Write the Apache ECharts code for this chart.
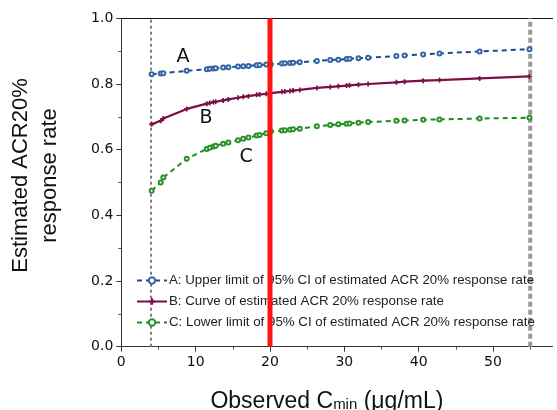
<!DOCTYPE html>
<html><head><meta charset="utf-8">
<script src="https://cdn.jsdelivr.net/npm/echarts@6/dist/echarts.min.js"></script>
<style>html,body{margin:0;padding:0;background:#fff}#c{width:557px;height:410px}</style>
</head><body><div id="c"></div>
<script>
// Observed Cmin values (µg/mL) where estimates are plotted
const cmin = [4.08,5.3,5.65,8.8,11.5,11.9,12.4,12.7,13.7,14.4,15.7,16.4,17.1,18.2,18.6,19.5,20.1,21.6,22.0,22.7,23.1,24.0,26.3,28.1,29.2,30.3,30.7,31.9,33.2,37.0,38.1,40.6,42.8,48.2,54.9];
const upperA = [0.830,0.832,0.833,0.840,0.845,0.846,0.847,0.848,0.850,0.851,0.853,0.854,0.855,0.857,0.858,0.859,0.860,0.862,0.863,0.864,0.865,0.866,0.870,0.873,0.874,0.876,0.877,0.878,0.880,0.885,0.887,0.890,0.893,0.899,0.906];
const curveB = [0.677,0.688,0.695,0.724,0.740,0.742,0.745,0.746,0.750,0.753,0.758,0.761,0.763,0.767,0.768,0.770,0.772,0.776,0.777,0.779,0.780,0.782,0.788,0.791,0.793,0.795,0.796,0.798,0.800,0.805,0.807,0.810,0.812,0.817,0.823];
const lowerC = [0.475,0.500,0.515,0.572,0.602,0.606,0.610,0.612,0.618,0.622,0.629,0.633,0.637,0.643,0.645,0.650,0.655,0.658,0.659,0.661,0.662,0.664,0.671,0.675,0.677,0.679,0.680,0.682,0.684,0.688,0.689,0.691,0.692,0.695,0.697];
const seriesNames = [
  'A: Upper limit of 95% CI of estimated ACR 20% response rate',
  'B: Curve of estimated ACR 20% response rate',
  'C: Lower limit of 95% CI of estimated ACR 20% response rate'
];
const curveLetters = ['A','B','C'];
const refLowX = [4];
const refTargetX = [20];
const refHighX = [55];
const yRange = [0, 1];
const xTicks = [0,10,20,30,40,50];
const xMinorTicks = [5,15,25,35,45,55];

const zip = (xs, ys) => xs.map((x,i)=>[x, ys[i]]);
const vline = (x) => yRange.map(y=>[x,y]);

const chart = echarts.init(document.getElementById('c'), null, {renderer:'canvas'});
const plus = 'path://M2,0h2v2h2v2h-2v2h-2v-2h-2v-2h2z';
const letterLabel = (t, coord) => ({
  symbol:'circle', symbolSize:2, silent:true,
  itemStyle:{color:'rgba(0,0,0,0)'},
  label:{show:true, position:'inside', color:'#111', fontFamily:'DejaVu Sans', fontSize:19, formatter:t},
  data:[{coord:coord, name:t}]
});
chart.setOption({
  animation:false,
  textStyle:{fontFamily:'Liberation Sans'},
  grid:{left:121.3, top:18.3, right:4.5, bottom:63.3, containLabel:false, outerBoundsMode:'none'},
  legend:{
    data:seriesNames, orient:'vertical', left:131, top:269,
    itemWidth:30, itemHeight:8, itemGap:8,
    textStyle:{fontFamily:'Liberation Sans', fontSize:13.3, color:'#222', padding:[0,0,0,-3]}
  },
  xAxis:[
    {type:'value', min:0, max:58, interval:10, position:'bottom',
     axisLine:{show:true, onZero:false, lineStyle:{color:'#333', width:1}},
     axisTick:{show:true, length:5, lineStyle:{color:'#333'}, customValues:xTicks},
     axisLabel:{customValues:xTicks, color:'#111', fontFamily:'DejaVu Sans', fontSize:14, margin:9},
     splitLine:{show:false},
     name:'{a|Observed C}{s|min}{a| (μg/mL)}', nameLocation:'middle', nameGap:40,
     nameTextStyle:{rich:{a:{fontFamily:'Liberation Sans', fontSize:23, color:'#111', lineHeight:26, verticalAlign:'bottom'}, s:{fontFamily:'Liberation Sans', fontSize:15, color:'#111', lineHeight:20, verticalAlign:'bottom'}}, padding:[0,20,0,0]}
    },
    {type:'value', min:0, max:58, interval:5, position:'bottom', show:true,
     axisLine:{show:false}, axisLabel:{show:false}, splitLine:{show:false},
     axisTick:{show:true, length:3, lineStyle:{color:'#555'}, customValues:xMinorTicks}},
    {type:'value', min:0, max:58, position:'top', show:true,
     axisLine:{show:true, onZero:false, lineStyle:{color:'#111', width:1.2}},
     axisTick:{show:false}, axisLabel:{show:false}, splitLine:{show:false}}
  ],
  yAxis:{type:'value', min:0, max:1, interval:0.2,
    axisLine:{show:true, onZero:false, lineStyle:{color:'#333'}},
    axisTick:{show:true, length:5, lineStyle:{color:'#333'}},
    minorTick:{show:true, splitNumber:2, length:3, lineStyle:{color:'#555'}},
    splitLine:{show:false},
    axisLabel:{formatter:v=>v.toFixed(1), color:'#111', fontFamily:'DejaVu Sans', fontSize:14, margin:8},
    name:'Estimated ACR20%\nresponse rate', nameLocation:'middle', nameGap:57, nameRotate:90,
    nameTextStyle:{fontFamily:'Liberation Sans', fontSize:22, color:'#111', lineHeight:29, padding:[0,0,0,14]}
  },
  series:[
    {name:'refLow', type:'line', data:vline(refLowX[0]), symbol:'none', silent:true, z:1,
     lineStyle:{color:'#7f7f7f', width:2, type:[3,3]}},
    {name:'refHigh', type:'line', data:vline(refHighX[0]), symbol:'none', silent:true, z:1,
     lineStyle:{color:'#999999', width:4, type:[5,3]}},
    {name:seriesNames[0], type:'line', data:zip(cmin, upperA), symbol:'emptyCircle', symbolSize:4,
     itemStyle:{color:'#3565a6', borderWidth:0.8}, lineStyle:{color:'#1b4c8c', width:2, type:[5,4]}, z:3,
     markPoint:letterLabel(curveLetters[0],[8.3,0.882])},
    {name:seriesNames[1], type:'line', data:zip(cmin, curveB), symbol:plus, symbolSize:5,
     itemStyle:{color:'#7a1046'}, lineStyle:{color:'#7a1046', width:2.2}, z:3,
     markPoint:letterLabel(curveLetters[1],[11.4,0.695])},
    {name:seriesNames[2], type:'line', data:zip(cmin, lowerC), symbol:'emptyCircle', symbolSize:4,
     itemStyle:{color:'#2a922a', borderWidth:0.8}, lineStyle:{color:'#1d8a1d', width:2, type:[5,4]}, z:3,
     markPoint:letterLabel(curveLetters[2],[16.8,0.578])},
    {name:'target', type:'line', data:vline(refTargetX[0]), symbol:'none', silent:true, z:6,
     lineStyle:{color:'#ff1414', width:5}}
  ]
});
</script></body></html>
